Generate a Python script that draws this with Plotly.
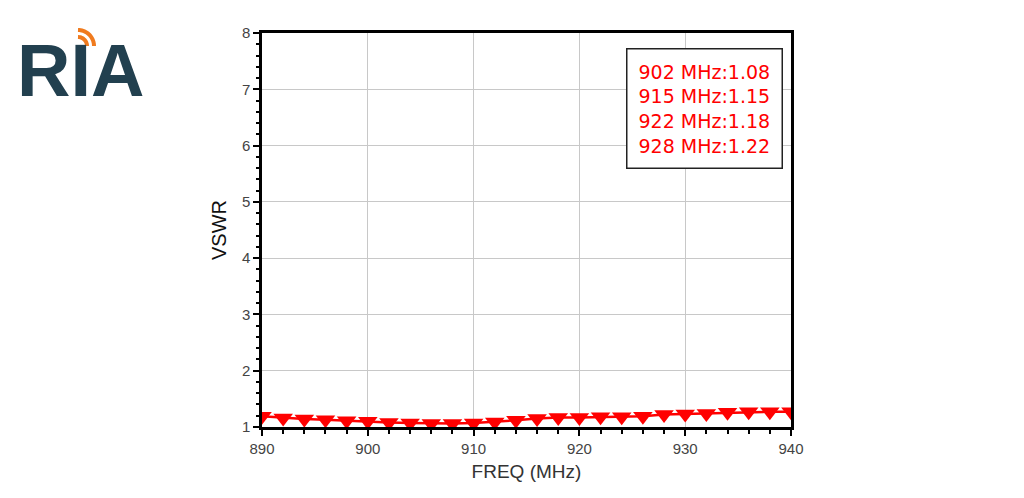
import numpy as np
import plotly.graph_objects as go

# ---- data ----
freq_mhz = [890, 892, 894, 896, 898, 900, 902, 904, 906, 908, 910, 912, 914,
            916, 918, 920, 922, 924, 926, 928, 930, 932, 934, 936, 938, 940]
vswr = [1.19, 1.16, 1.14, 1.13, 1.11, 1.10, 1.08, 1.07, 1.06, 1.06, 1.07, 1.09, 1.12,
        1.15, 1.17, 1.17, 1.18, 1.18, 1.19, 1.22, 1.23, 1.24, 1.26, 1.27, 1.27, 1.27]
marker_labels = ["902 MHz:1.08", "915 MHz:1.15", "922 MHz:1.18", "928 MHz:1.22"]
x_ticks = [890, 900, 910, 920, 930, 940]
y_ticks = [1, 2, 3, 4, 5, 6, 7, 8]

W, H = 1024, 498
L, R, T, B = 262, 233, 33, 71
pw, ph = W - L - R, H - T - B

def px2paper(x, y):
    return (x - L) / pw, (H - B - y) / ph

fig = go.Figure()
fig.add_trace(go.Scatter(
    x=freq_mhz, y=vswr, mode="lines+markers",
    line=dict(color="#ff0000", width=2.5),
    marker=dict(symbol="triangle-down", size=17, color="#ff0000"),
    showlegend=False, cliponaxis=True,
))

tickfont = dict(family="Liberation Sans, Arial, sans-serif", size=15, color="#444444")
fig.update_xaxes(
    range=[890, 940], tickvals=x_ticks, ticks="outside", ticklen=6, tickwidth=2,
    tickcolor="black", showline=True, linecolor="black", linewidth=2.5, mirror=True,
    showgrid=True, gridcolor="#c8c8c8", gridwidth=1, zeroline=False,
    minor=dict(dtick=2, ticks="outside", ticklen=4, tickwidth=2, tickcolor="black", showgrid=False),
    tickfont=tickfont,
    title=dict(text="FREQ (MHz)", font=dict(family="Liberation Sans, Arial, sans-serif", size=19, color="#333333"), standoff=9),
)
fig.update_yaxes(
    range=[1, 8], tickvals=y_ticks, ticks="outside", ticklen=6, tickwidth=2,
    tickcolor="black", showline=True, linecolor="black", linewidth=2.5, mirror=True,
    showgrid=True, gridcolor="#c8c8c8", gridwidth=1, zeroline=False,
    minor=dict(dtick=0.2, ticks="outside", ticklen=3, tickwidth=2, tickcolor="black", showgrid=False),
    tickfont=tickfont,
    title=dict(text="VSWR", font=dict(family="Liberation Sans, Arial, sans-serif", size=20, color="#111111"), standoff=10),
)

# marker readout box
bx, by = px2paper(704.5, 108.5)
fig.add_annotation(
    xref="paper", yref="paper", x=bx, y=by, xanchor="center", yanchor="middle",
    text="<br>".join(marker_labels), align="left", showarrow=False,
    font=dict(family="DejaVu Sans, sans-serif", size=19, color="#ff0000"),
    bordercolor="#222222", borderwidth=1.5, borderpad=11, bgcolor="white",
)

# logo
lx, ly = px2paper(80, 71)
fig.add_annotation(
    xref="paper", yref="paper", x=lx, y=ly, xanchor="center", yanchor="middle",
    text="<b>RIA</b>", showarrow=False,
    font=dict(family="Liberation Sans, Arial, sans-serif", size=74, color="#22404f"),
)
cx, cy = 78, 46
for r in (9, 16):
    th = np.linspace(np.pi / 2, 0.0, 20)
    pts = [px2paper(cx + r * np.cos(t), cy - r * np.sin(t)) for t in th]
    path = "M " + " L ".join(f"{a:.5f},{b:.5f}" for a, b in pts)
    fig.add_shape(type="path", xref="paper", yref="paper", path=path,
                  line=dict(color="#f07b1e", width=4))

fig.update_layout(
    width=W, height=H, margin=dict(l=L, r=R, t=T, b=B),
    paper_bgcolor="white", plot_bgcolor="white",
)
fig.write_html("out.html")
